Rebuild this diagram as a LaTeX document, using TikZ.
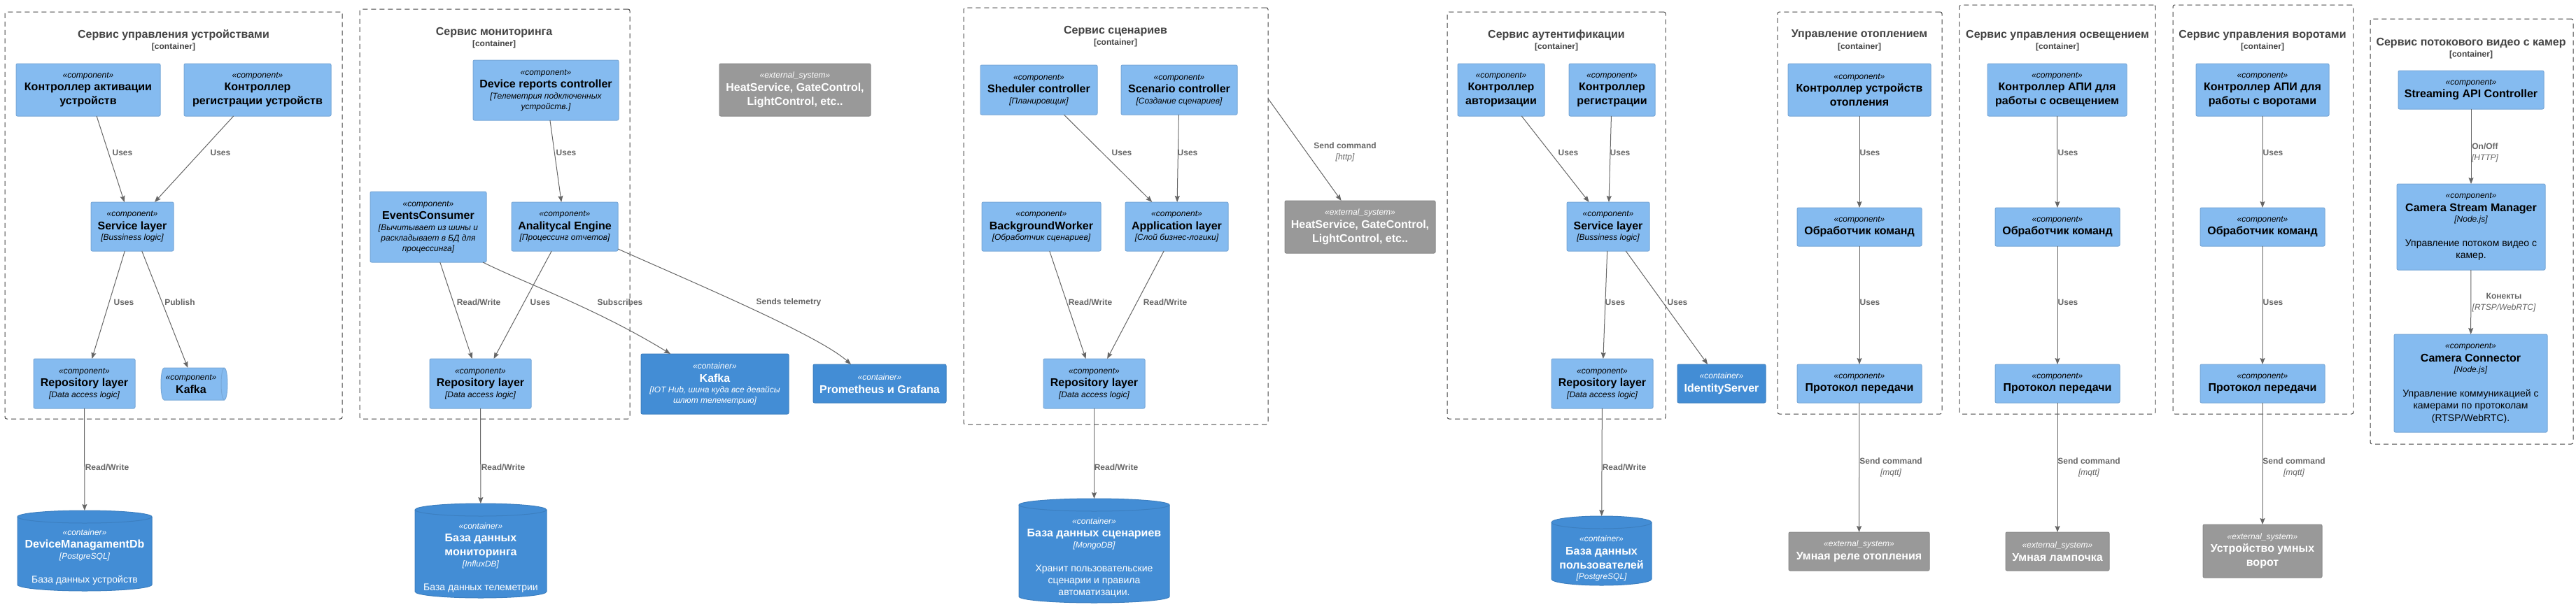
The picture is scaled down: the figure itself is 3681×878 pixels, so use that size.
\documentclass[tikz,border=0pt]{standalone}
\usepackage{fontspec}
\setmainfont{Liberation Sans}
\usetikzlibrary{arrows.meta,calc}
\definecolor{compfill}{HTML}{85BBF0}
\definecolor{compline}{HTML}{78A8D8}
\definecolor{contfill}{HTML}{438DD5}
\definecolor{contline}{HTML}{3C7FC0}
\definecolor{extfill}{HTML}{999999}
\definecolor{extline}{HTML}{8A8A8A}
\definecolor{relc}{HTML}{666666}
\definecolor{bndc}{HTML}{444444}
\lineskiplimit=-100pt
\newcommand\cster[1]{{\fontsize{9}{10.5}\selectfont\itshape «#1»}}
\newcommand\cttl[1]{{\fontsize{12}{10.5}\selectfont\bfseries #1}}
\newcommand\ctech[1]{{\fontsize{9}{10.5}\selectfont\itshape #1}}
\newcommand\cdsc[1]{{\fontsize{10.5}{10.5}\selectfont #1}}
\newcommand\bttl[1]{{\fontsize{12}{10.5}\selectfont\bfseries #1}}
\newcommand\bsub[1]{{\fontsize{9}{10.5}\selectfont\bfseries #1}}
\newcommand\rlt[1]{{\bfseries #1}}
\newcommand\rlq[1]{{\itshape #1}}
\newcommand\nbox[7]{\node[#1, minimum width={(#4-#2)*0.75pt}, minimum height={(#5-#3)*0.75pt}] (#6) at ({(#2+#4)/2},{(#3+#5)/2}) {#7};}
\newcommand\dbnode[7]{%
  \node[c4ghost, minimum width={(#3-#1)*0.75pt}, minimum height={(#4-#2)*0.75pt}] (#5) at ({(#1+#3)/2},{(#2+#4)/2}) {};
  \filldraw[fill=contfill, draw=contline, line width=0.75pt] ({#1},{#2+9}) -- ({#1},{#4-9})
     arc[start angle=180, end angle=360, x radius={(#3-#1)*0.375pt}, y radius=6.75pt]
     -- ({#3},{#2+9})
     arc[start angle=0, end angle=180, x radius={(#3-#1)*0.375pt}, y radius=6.75pt] -- cycle;
  \draw[contline, line width=0.75pt] ({#1},{#2+9}) arc[start angle=180, end angle=360, x radius={(#3-#1)*0.375pt}, y radius=6.75pt];
  \node[c4cont, fill=none, draw=none] (#5t) at ({(#1+#3)/2},{(#2+#4)/2+#6}) {#7};
}
\begin{document}
\begin{tikzpicture}[x=0.75pt,y=-0.75pt,
  c4base/.style={rectangle, inner sep=0pt, outer sep=0pt, align=center, font=\fontsize{9}{10.5}\selectfont},
  c4comp/.style={c4base, fill=compfill, draw=compline, line width=0.75pt, rounded corners=1.5pt, text=black},
  c4cont/.style={c4base, fill=contfill, draw=contline, line width=0.75pt, rounded corners=1.5pt, text=white},
  c4ext/.style={c4base, fill=extfill, draw=extline, line width=0.75pt, rounded corners=1.5pt, text=white},
  c4bnd/.style={c4base, draw=bndc, line width=0.75pt, dash pattern=on 5.25pt off 3.75pt, rounded corners=2pt},
  c4ghost/.style={c4base},
  c4ttl/.style={c4base, text=bndc},
  c4lab/.style={c4base, text=relc},
  c4rel/.style={draw=relc, line width=0.75pt, -{Stealth[length=6.75pt, width=5.25pt, inset=1pt]}},
]
\useasboundingbox (0,0) rectangle (3681,878);
\fill[white] (0,0) rectangle (3681,878);

% ---------- boundaries ----------
\nbox{c4bnd}{7}{17}{489}{599}{bnd1}{}
\nbox{c4bnd}{514}{13}{900}{599}{bnd2}{}
\nbox{c4bnd}{1377}{11}{1812}{607}{bnd3}{}
\nbox{c4bnd}{2068}{17}{2380}{599}{bnd4}{}
\nbox{c4bnd}{2540}{17}{2775}{592}{bnd5}{}
\nbox{c4bnd}{2800}{7}{3080}{592}{bnd6}{}
\nbox{c4bnd}{3105}{7}{3363}{592}{bnd7}{}
\nbox{c4bnd}{3387}{27}{3677}{635}{bnd8}{}

\node[c4ttl] (bt1) at (248,58) {\bttl{Сервис управления устройствами}\\[1.9pt]\bsub{[container]}};
\node[c4ttl] (bt2) at (706,54) {\bttl{Сервис мониторинга}\\[1.9pt]\bsub{[container]}};
\node[c4ttl] (bt3) at (1594,52) {\bttl{Сервис сценариев}\\[1.9pt]\bsub{[container]}};
\node[c4ttl] (bt4) at (2224,58) {\bttl{Сервис аутентификации}\\[1.9pt]\bsub{[container]}};
\node[c4ttl] (bt5) at (2657,58) {\bttl{Управление отоплением}\\[1.9pt]\bsub{[container]}};
\node[c4ttl] (bt6) at (2940,58) {\bttl{Сервис управления освещением}\\[1.9pt]\bsub{[container]}};
\node[c4ttl] (bt7) at (3233,58) {\bttl{Сервис управления воротами}\\[1.9pt]\bsub{[container]}};
\node[c4ttl] (bt8) at (3531,69) {\bttl{Сервис потокового видео с камер}\\[1.9pt]\bsub{[container]}};

% ---------- container 1 ----------
\nbox{c4comp}{23}{91}{229}{166}{act}{\cster{component}\\[3.4pt]\cttl{Контроллер активации}\\[4.5pt]\cttl{устройств}}
\nbox{c4comp}{263}{91}{473}{166}{reg}{\cster{component}\\[3.4pt]\cttl{Контроллер}\\[4.5pt]\cttl{регистрации устройств}}
\nbox{c4comp}{130}{289}{248}{359}{sl1}{\cster{component}\\[3.4pt]\cttl{Service layer}\\[1.1pt]\ctech{[Bussiness logic]}}
\nbox{c4comp}{48}{513}{193}{584}{repo1}{\cster{component}\\[3.4pt]\cttl{Repository layer}\\[1.1pt]\ctech{[Data access logic]}}
\nbox{c4ghost}{230}{526}{325}{572}{kafka1}{}
\filldraw[fill=compfill, draw=compline, line width=0.75pt] (234.5,526) -- (320.5,526)
  arc[start angle=90, end angle=-90, x radius=3.375pt, y radius=17.25pt] -- (234.5,572)
  arc[start angle=270, end angle=90, x radius=3.375pt, y radius=17.25pt] -- cycle;
\draw[compline, line width=0.75pt] (320.5,526) arc[start angle=90, end angle=270, x radius=3.375pt, y radius=17.25pt];
\node[c4comp, fill=none, draw=none] (kafka1t) at (273,549) {\cster{component}\\[3.4pt]\cttl{Kafka}};
\dbnode{25}{730}{217}{845}{db1}{9}{\cster{container}\\[3.4pt]\cttl{DeviceManagamentDb}\\[1.1pt]\ctech{[PostgreSQL]}\\[15.4pt]\cdsc{База данных устройств}}

% ---------- container 2 ----------
\nbox{c4comp}{676}{86}{884}{172}{drc}{\cster{component}\\[3.4pt]\cttl{Device reports controller}\\[1.1pt]\ctech{[Телеметрия подключенных}\\[0.75pt]\ctech{устройств.]}}
\nbox{c4comp}{529}{274}{695}{375}{ec}{\cster{component}\\[3.4pt]\cttl{EventsConsumer}\\[1.1pt]\ctech{[Вычитывает из шины и}\\[0.75pt]\ctech{раскладывает в БД для}\\[0.75pt]\ctech{процессинга]}}
\nbox{c4comp}{731}{289}{883}{359}{ae}{\cster{component}\\[3.4pt]\cttl{Analitycal Engine}\\[1.1pt]\ctech{[Процессинг отчетов]}}
\nbox{c4comp}{614}{513}{759}{584}{repo2}{\cster{component}\\[3.4pt]\cttl{Repository layer}\\[1.1pt]\ctech{[Data access logic]}}
\dbnode{593}{720}{781}{855}{db2}{10}{\cster{container}\\[3.4pt]\cttl{База данных}\\[4.5pt]\cttl{мониторинга}\\[1.1pt]\ctech{[InfluxDB]}\\[15.4pt]\cdsc{База данных телеметрии}}
\nbox{c4ext}{1028}{91}{1244}{166}{ext1}{\cster{external\_system}\\[3.4pt]\cttl{HeatService, GateControl,}\\[4.5pt]\cttl{LightControl, etc..}}
\nbox{c4cont}{916}{506}{1127}{592}{kafka2}{\cster{container}\\[3.4pt]\cttl{Kafka}\\[1.1pt]\ctech{[IOT Hub, шина куда все девайсы}\\[0.75pt]\ctech{шлют телеметрию]}}
\nbox{c4cont}{1162}{521}{1352}{576}{prom}{\cster{container}\\[3.4pt]\cttl{Prometheus и Grafana}}

% ---------- container 3 ----------
\nbox{c4comp}{1401}{93}{1568}{164}{sch}{\cster{component}\\[3.4pt]\cttl{Sheduler controller}\\[1.1pt]\ctech{[Планировщик]}}
\nbox{c4comp}{1602}{93}{1768}{164}{scn}{\cster{component}\\[3.4pt]\cttl{Scenario controller}\\[1.1pt]\ctech{[Создание сценариев]}}
\nbox{c4comp}{1403}{289}{1573}{359}{bw}{\cster{component}\\[3.4pt]\cttl{BackgroundWorker}\\[1.1pt]\ctech{[Обработчик сценариев]}}
\nbox{c4comp}{1608}{289}{1755}{359}{app}{\cster{component}\\[3.4pt]\cttl{Application layer}\\[1.1pt]\ctech{[Слой бизнес-логики]}}
\nbox{c4comp}{1491}{513}{1636}{584}{repo3}{\cster{component}\\[3.4pt]\cttl{Repository layer}\\[1.1pt]\ctech{[Data access logic]}}
\dbnode{1456}{713}{1671}{862}{db3}{10}{\cster{container}\\[3.4pt]\cttl{База данных сценариев}\\[1.1pt]\ctech{[MongoDB]}\\[15.4pt]\cdsc{Хранит пользовательские}\\[2.25pt]\cdsc{сценарии и правила}\\[2.25pt]\cdsc{автоматизации.}}
\nbox{c4ext}{1836}{287}{2051}{362}{ext2}{\cster{external\_system}\\[3.4pt]\cttl{HeatService, GateControl,}\\[4.5pt]\cttl{LightControl, etc..}}
\coordinate (scfrom) at (1812,141);

% ---------- container 4 ----------
\nbox{c4comp}{2083}{91}{2207}{166}{authc}{\cster{component}\\[3.4pt]\cttl{Контроллер}\\[4.5pt]\cttl{авторизации}}
\nbox{c4comp}{2242}{91}{2365}{166}{regc}{\cster{component}\\[3.4pt]\cttl{Контроллер}\\[4.5pt]\cttl{регистрации}}
\nbox{c4comp}{2239}{289}{2357}{359}{sl4}{\cster{component}\\[3.4pt]\cttl{Service layer}\\[1.1pt]\ctech{[Bussiness logic]}}
\nbox{c4comp}{2217}{513}{2362}{584}{repo4}{\cster{component}\\[3.4pt]\cttl{Repository layer}\\[1.1pt]\ctech{[Data access logic]}}
\nbox{c4cont}{2397}{521}{2523}{576}{ids}{\cster{container}\\[3.4pt]\cttl{IdentityServer}}
\dbnode{2217}{738}{2360}{837}{db4}{11}{\cster{container}\\[3.4pt]\cttl{База данных}\\[4.5pt]\cttl{пользователей}\\[1.1pt]\ctech{[PostgreSQL]}}

% ---------- container 5 ----------
\nbox{c4comp}{2555}{91}{2759}{166}{heatc}{\cster{component}\\[3.4pt]\cttl{Контроллер устройств}\\[4.5pt]\cttl{отопления}}
\nbox{c4comp}{2568}{297}{2746}{352}{heath}{\cster{component}\\[3.4pt]\cttl{Обработчик команд}}
\nbox{c4comp}{2568}{521}{2746}{576}{heatp}{\cster{component}\\[3.4pt]\cttl{Протокол передачи}}
\nbox{c4ext}{2556}{761}{2757}{816}{heatx}{\cster{external\_system}\\[3.4pt]\cttl{Умная реле отопления}}

% ---------- container 6 ----------
\nbox{c4comp}{2840}{91}{3039}{166}{lightc}{\cster{component}\\[3.4pt]\cttl{Контроллер АПИ для}\\[4.5pt]\cttl{работы с освещением}}
\nbox{c4comp}{2851}{297}{3029}{352}{lighth}{\cster{component}\\[3.4pt]\cttl{Обработчик команд}}
\nbox{c4comp}{2851}{521}{3029}{576}{lightp}{\cster{component}\\[3.4pt]\cttl{Протокол передачи}}
\nbox{c4ext}{2866}{761}{3014}{816}{lightx}{\cster{external\_system}\\[3.4pt]\cttl{Умная лампочка}}

% ---------- container 7 ----------
\nbox{c4comp}{3138}{91}{3328}{166}{gatec}{\cster{component}\\[3.4pt]\cttl{Контроллер АПИ для}\\[4.5pt]\cttl{работы с воротами}}
\nbox{c4comp}{3144}{297}{3322}{352}{gateh}{\cster{component}\\[3.4pt]\cttl{Обработчик команд}}
\nbox{c4comp}{3144}{521}{3322}{576}{gatep}{\cster{component}\\[3.4pt]\cttl{Протокол передачи}}
\nbox{c4ext}{3148}{750}{3318}{826}{gatex}{\cster{external\_system}\\[3.4pt]\cttl{Устройство умных}\\[4.5pt]\cttl{ворот}}

% ---------- container 8 ----------
\nbox{c4comp}{3427}{101}{3635}{156}{sapi}{\cster{component}\\[3.4pt]\cttl{Streaming API Controller}}
\nbox{c4comp}{3425}{263}{3637}{386}{csm}{\cster{component}\\[3.4pt]\cttl{Camera Stream Manager}\\[1.1pt]\ctech{[Node.js]}\\[15.4pt]\cdsc{Управление потоком видео с}\\[2.5pt]\cdsc{камер.}}
\nbox{c4comp}{3421}{478}{3640}{618}{ccon}{\cster{component}\\[3.4pt]\cttl{Camera Connector}\\[1.1pt]\ctech{[Node.js]}\\[15.4pt]\cdsc{Управление коммуникацией с}\\[2.5pt]\cdsc{камерами по протоколам}\\[2.5pt]\cdsc{(RTSP/WebRTC).}}

% ---------- connectors ----------
\draw[c4rel] (act) -- (sl1);
\draw[c4rel] (reg) -- (sl1);
\draw[c4rel] (sl1) -- (repo1);
\draw[c4rel] (sl1) -- (kafka1);
\draw[c4rel] (repo1) -- (db1);

\draw[c4rel] (drc) -- (ae);
\draw[c4rel] (ec) -- (repo2);
\draw[c4rel] (ae) -- (repo2);
\draw[c4rel] ($(ec.south east)+(-5,0)$) .. controls (750,405) and (850,440) .. ($(kafka2.north west)+(42,0)$);
\draw[c4rel] ($(ae.south east)+(0,-3)$) .. controls (1000,408) and (1170,480) .. ($(prom.north west)+(54,0)$);
\draw[c4rel] (repo2) -- (db2);

\draw[c4rel] (sch) -- (app);
\draw[c4rel] (scn) -- (app);
\draw[c4rel] (bw) -- (repo3);
\draw[c4rel] (app) -- (repo3);
\draw[c4rel] (repo3) -- (db3);
\draw[c4rel] (scfrom) -- (ext2);

\draw[c4rel] (authc) -- (sl4);
\draw[c4rel] (regc) -- (sl4);
\draw[c4rel] (sl4) -- (repo4);
\draw[c4rel] (sl4) -- (ids);
\draw[c4rel] (repo4) -- (db4);

\draw[c4rel] (heatc) -- (heath);
\draw[c4rel] (heath) -- (heatp);
\draw[c4rel] (heatp) -- (heatx);
\draw[c4rel] (lightc) -- (lighth);
\draw[c4rel] (lighth) -- (lightp);
\draw[c4rel] (lightp) -- (lightx);
\draw[c4rel] (gatec) -- (gateh);
\draw[c4rel] (gateh) -- (gatep);
\draw[c4rel] (gatep) -- (gatex);
\draw[c4rel] (sapi) -- (csm);
\draw[c4rel] (csm) -- (ccon);

% ---------- connector labels ----------
\node[c4lab] (l1) at (175,218) {\rlt{Uses}};
\node[c4lab] (l2) at (315,218) {\rlt{Uses}};
\node[c4lab] (l3) at (177,432) {\rlt{Uses}};
\node[c4lab] (l4) at (257,432) {\rlt{Publish}};
\node[c4lab] (l5) at (153,668) {\rlt{Read/Write}};

\node[c4lab] (l6) at (809,218) {\rlt{Uses}};
\node[c4lab] (l7) at (684,432) {\rlt{Read/Write}};
\node[c4lab] (l8) at (772,432) {\rlt{Uses}};
\node[c4lab] (l9) at (886,432) {\rlt{Subscribes}};
\node[c4lab] (l10) at (1127,432) {\rlt{Sends telemetry}};
\node[c4lab] (l11) at (719,668) {\rlt{Read/Write}};

\node[c4lab] (l12) at (1603,218) {\rlt{Uses}};
\node[c4lab] (l13) at (1697,218) {\rlt{Uses}};
\node[c4lab] (l14) at (1558,432) {\rlt{Read/Write}};
\node[c4lab] (l15) at (1665,432) {\rlt{Read/Write}};
\node[c4lab] (l16) at (1595,668) {\rlt{Read/Write}};
\node[c4lab] (l17) at (1922,217.5) {\rlt{Send command}\\[1.5pt]\rlq{[http]}};

\node[c4lab] (l18) at (2241,218) {\rlt{Uses}};
\node[c4lab] (l19) at (2315,218) {\rlt{Uses}};
\node[c4lab] (l20) at (2308,432) {\rlt{Uses}};
\node[c4lab] (l21) at (2397,432) {\rlt{Uses}};
\node[c4lab] (l22) at (2321,668) {\rlt{Read/Write}};

\node[c4lab] (l23) at (2672,218) {\rlt{Uses}};
\node[c4lab] (l24) at (2672,432) {\rlt{Uses}};
\node[c4lab] (l25) at (2702,668) {\rlt{Send command}\\[1.5pt]\rlq{[mqtt]}};
\node[c4lab] (l26) at (2955,218) {\rlt{Uses}};
\node[c4lab] (l27) at (2955,432) {\rlt{Uses}};
\node[c4lab] (l28) at (2985,668) {\rlt{Send command}\\[1.5pt]\rlq{[mqtt]}};
\node[c4lab] (l29) at (3248,218) {\rlt{Uses}};
\node[c4lab] (l30) at (3248,432) {\rlt{Uses}};
\node[c4lab] (l31) at (3278,668) {\rlt{Send command}\\[1.5pt]\rlq{[mqtt]}};
\node[c4lab] (l32) at (3551,218) {\rlt{On/Off}\\[1.5pt]\rlq{[HTTP]}};
\node[c4lab] (l33) at (3578,433) {\rlt{Конекты}\\[1.5pt]\rlq{[RTSP/WebRTC]}};
\end{tikzpicture}
\end{document}
